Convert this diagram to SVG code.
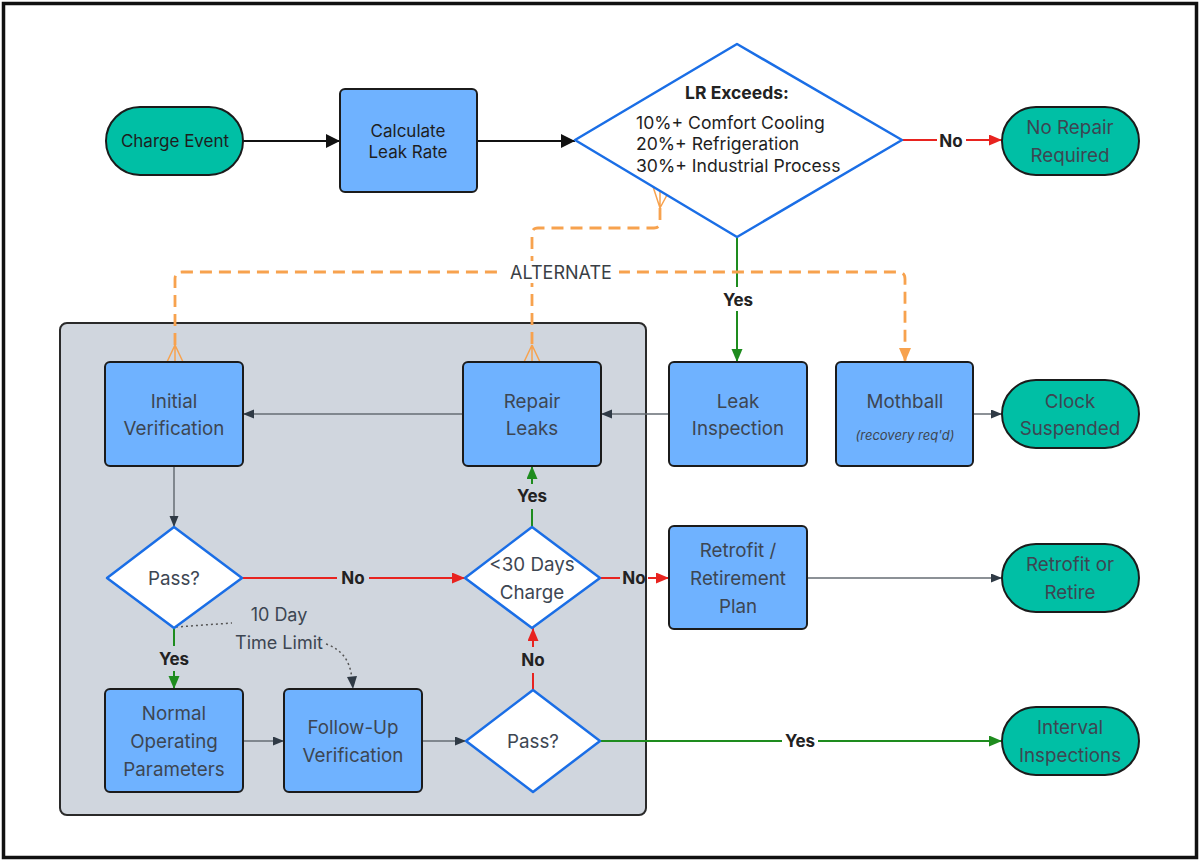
<svg xmlns="http://www.w3.org/2000/svg" width="1200" height="861" viewBox="0 0 1200 861">
<style>
text{font-family:Inter,"Noto Sans","Liberation Sans",sans-serif;text-anchor:middle;dominant-baseline:central}
.box{fill:#6FB2FF;stroke:#1b1b1b;stroke-width:2}
.term{fill:#00BFA5;stroke:#1b1b1b;stroke-width:2}
.dia{fill:#fff;stroke:#1A6EE6;stroke-width:2.5;stroke-linejoin:round}
.t{font-size:18.8px;fill:#3d4652}
.tk{font-size:17px;fill:#1e1e1e}
.lbl{font-size:17px;font-weight:700;fill:#222}
.gray{stroke:#666c73;stroke-width:1.5;fill:none}
.blk{stroke:#111;stroke-width:2;fill:none}
.red{stroke:#E8231F;stroke-width:2;fill:none}
.grn{stroke:#1E8C1E;stroke-width:2;fill:none}
.org{stroke:#F7A24E;stroke-width:2.8;fill:none;stroke-dasharray:12 7}
.crow{stroke:#F7A24E;stroke-width:1.5;fill:none}
.dot{stroke:#555;stroke-width:1.5;fill:none;stroke-dasharray:2 3}
</style>
<defs>
<marker id="ablk" markerUnits="userSpaceOnUse" markerWidth="15" markerHeight="15" refX="14" refY="7" orient="auto"><path d="M0,0 L14,7 L0,14 z" fill="#111"/></marker>
<marker id="agry" markerUnits="userSpaceOnUse" markerWidth="12" markerHeight="10" refX="11" refY="4.5" orient="auto"><path d="M0,0 L11,4.5 L0,9 z" fill="#2f3a45"/></marker>
<marker id="ared" markerUnits="userSpaceOnUse" markerWidth="14" markerHeight="12" refX="13" refY="5.5" orient="auto"><path d="M0,0 L13,5.5 L0,11 z" fill="#E8231F"/></marker>
<marker id="agrn" markerUnits="userSpaceOnUse" markerWidth="14" markerHeight="12" refX="13" refY="5.5" orient="auto"><path d="M0,0 L13,5.5 L0,11 z" fill="#1E8C1E"/></marker>
<marker id="aorg" markerUnits="userSpaceOnUse" markerWidth="15" markerHeight="13" refX="14" refY="6" orient="auto"><path d="M0,0 L14,6 L0,12 z" fill="#F7A24E"/></marker>
</defs>
<rect x="0" y="0" width="1200" height="861" fill="#fff"/>
<rect x="3.5" y="3.5" width="1193" height="854" fill="none" stroke="#111" stroke-width="3.5"/>

<g id="container">
<rect x="60" y="323" width="586" height="492" rx="7" fill="#D0D6DE" stroke="#2a2a2a" stroke-width="2"/>
</g>

<g id="connectors">
<line class="blk" x1="243" y1="141" x2="340" y2="141" marker-end="url(#ablk)"/>
<line class="blk" x1="477" y1="141" x2="575" y2="141" marker-end="url(#ablk)"/>
<line class="red" x1="902" y1="140" x2="937" y2="140"/>
<line class="red" x1="966" y1="140" x2="1002" y2="140" marker-end="url(#ared)"/>
<text class="lbl" x="951" y="141">No</text>
<line class="grn" x1="737" y1="237" x2="737" y2="362" marker-end="url(#agrn)"/>
<path class="org" d="M 175 345 L 175 279 Q 175 272 182 272 L 898 272 Q 905 272 905 279 L 905 362" marker-end="url(#aorg)"/>
<path class="org" d="M 660 208 L 660 222 Q 660 228 654 228 L 538 228 Q 532 228 532 234 L 532 345"/>
<path class="crow" d="M 175 345 L 167 362 M 175 345 L 175 362 M 175 345 L 183 362"/>
<path class="crow" d="M 532 345 L 524 362 M 532 345 L 532 362 M 532 345 L 540 362"/>
<path class="crow" d="M 660 208 L 653 186.5 M 660 208 L 660 191 M 660 208 L 667 195"/>
<rect x="503" y="261" width="116" height="22" fill="#fff"/>
<text x="561" y="272" style="font-size:18px;fill:#3a3f45">ALTERNATE</text>
<rect x="718" y="287" width="40" height="24" fill="#fff"/>
<text class="lbl" x="738" y="300">Yes</text>
<line class="gray" x1="669" y1="414" x2="601" y2="414" marker-end="url(#agry)"/>
<line class="gray" x1="463" y1="414" x2="243" y2="414" marker-end="url(#agry)"/>
<line class="gray" x1="973" y1="414" x2="1002" y2="414" marker-end="url(#agry)"/>
<line class="gray" x1="174" y1="466" x2="174" y2="527" marker-end="url(#agry)"/>
<line class="red" x1="242" y1="578" x2="337" y2="578"/>
<line class="red" x1="369" y1="578" x2="465" y2="578" marker-end="url(#ared)"/>
<text class="lbl" x="353" y="578">No</text>
<line class="red" x1="600" y1="578" x2="620" y2="578"/>
<line class="red" x1="648" y1="578" x2="669" y2="578" marker-end="url(#ared)"/>
<text class="lbl" x="634" y="578">No</text>
<line class="grn" x1="532" y1="527" x2="532" y2="509"/>
<line class="grn" x1="532" y1="484" x2="532" y2="466" marker-end="url(#agrn)"/>
<text class="lbl" x="532" y="496">Yes</text>
<line class="red" x1="533" y1="690" x2="533" y2="673"/>
<line class="red" x1="533" y1="647" x2="533" y2="628" marker-end="url(#ared)"/>
<text class="lbl" x="533" y="660">No</text>
<line class="grn" x1="174" y1="628" x2="174" y2="646"/>
<line class="grn" x1="174" y1="671" x2="174" y2="689" marker-end="url(#agrn)"/>
<text class="lbl" x="174" y="659">Yes</text>
<line class="gray" x1="807" y1="578" x2="1002" y2="578" marker-end="url(#agry)"/>
<line class="grn" x1="600" y1="741" x2="782" y2="741"/>
<line class="grn" x1="818" y1="741" x2="1002" y2="741" marker-end="url(#agrn)"/>
<text class="lbl" x="800" y="741">Yes</text>
<line class="gray" x1="243" y1="741" x2="284" y2="741" marker-end="url(#agry)"/>
<line class="gray" x1="422" y1="741" x2="466" y2="741" marker-end="url(#agry)"/>
<path class="dot" d="M 176 627 L 232 623"/>
<path class="dot" d="M 326 644 Q 350 652 352 680"/>
<path d="M 347 677 L 353 689 L 357 676 z" fill="#2f3a45"/>
<text x="279" y="614" style="font-size:18px;fill:#3d4652">10 Day</text>
<text x="279" y="642" style="font-size:18px;fill:#3d4652">Time Limit</text>
</g>

<g id="charge-event">
<rect class="term" x="106" y="107" width="137" height="68" rx="34"/>
<text class="tk" x="175" y="141">Charge Event</text>
</g>
<g id="calculate">
<rect class="box" x="340" y="89" width="137" height="103" rx="5"/>
<text class="tk" x="408" y="131">Calculate</text>
<text class="tk" x="408" y="152">Leak Rate</text>
</g>
<g id="lr-exceeds">
<polygon class="dia" points="575,140 737,44 902,140 737,237"/>
<text x="737" y="92" style="font-size:17.5px;font-weight:700;fill:#222">LR Exceeds:</text>
<text x="636" y="122" style="font-size:17.6px;fill:#1e1e1e;text-anchor:start">10%+ Comfort Cooling</text>
<text x="636" y="143.5" style="font-size:17.6px;fill:#1e1e1e;text-anchor:start">20%+ Refrigeration</text>
<text x="636" y="165" style="font-size:17.6px;fill:#1e1e1e;text-anchor:start">30%+ Industrial Process</text>
</g>
<g id="no-repair">
<rect class="term" x="1002" y="107" width="137" height="68" rx="34"/>
<text class="t" x="1070" y="127">No Repair</text>
<text class="t" x="1070" y="155">Required</text>
</g>
<g id="initial-verification">
<rect class="box" x="105" y="362" width="138" height="104" rx="5"/>
<text class="t" x="174" y="401">Initial</text>
<text class="t" x="174" y="428">Verification</text>
</g>
<g id="repair-leaks">
<rect class="box" x="463" y="362" width="138" height="104" rx="5"/>
<text class="t" x="532" y="401">Repair</text>
<text class="t" x="532" y="428">Leaks</text>
</g>
<g id="leak-inspection">
<rect class="box" x="669" y="362" width="138" height="104" rx="5"/>
<text class="t" x="738" y="401">Leak</text>
<text class="t" x="738" y="428">Inspection</text>
</g>
<g id="mothball">
<rect class="box" x="836" y="362" width="137" height="104" rx="5"/>
<text class="t" x="905" y="401">Mothball</text>
<text x="905" y="435" style="font-size:13px;font-style:italic;fill:#3d4652">(recovery req'd)</text>
</g>
<g id="clock-suspended">
<rect class="term" x="1002" y="380" width="137" height="68" rx="34"/>
<text class="t" x="1070" y="401">Clock</text>
<text class="t" x="1070" y="428">Suspended</text>
</g>
<g id="pass-1">
<polygon class="dia" points="107,578 174,527 242,578 174,628"/>
<text class="t" x="174" y="578">Pass?</text>
</g>
<g id="thirty-days">
<polygon class="dia" points="465,578 532,527 600,578 532,628"/>
<text class="t" x="532" y="564">&lt;30 Days</text>
<text class="t" x="532" y="592">Charge</text>
</g>
<g id="retrofit-plan">
<rect class="box" x="669" y="526" width="138" height="103" rx="5"/>
<text class="t" x="738" y="550">Retrofit /</text>
<text class="t" x="738" y="578">Retirement</text>
<text class="t" x="738" y="606">Plan</text>
</g>
<g id="retrofit-or-retire">
<rect class="term" x="1002" y="544" width="137" height="68" rx="34"/>
<text class="t" x="1070" y="564">Retrofit or</text>
<text class="t" x="1070" y="592">Retire</text>
</g>
<g id="normal-operating">
<rect class="box" x="105" y="689" width="138" height="103" rx="5"/>
<text class="t" x="174" y="713">Normal</text>
<text class="t" x="174" y="741">Operating</text>
<text class="t" x="174" y="769">Parameters</text>
</g>
<g id="follow-up">
<rect class="box" x="284" y="689" width="138" height="103" rx="5"/>
<text class="t" x="353" y="727">Follow-Up</text>
<text class="t" x="353" y="755">Verification</text>
</g>
<g id="pass-2">
<polygon class="dia" points="466,741 533,690 600,741 533,792"/>
<text class="t" x="533" y="741">Pass?</text>
</g>
<g id="interval-inspections">
<rect class="term" x="1002" y="707" width="137" height="68" rx="34"/>
<text class="t" x="1070" y="727">Interval</text>
<text class="t" x="1070" y="755">Inspections</text>
</g>
</svg>
